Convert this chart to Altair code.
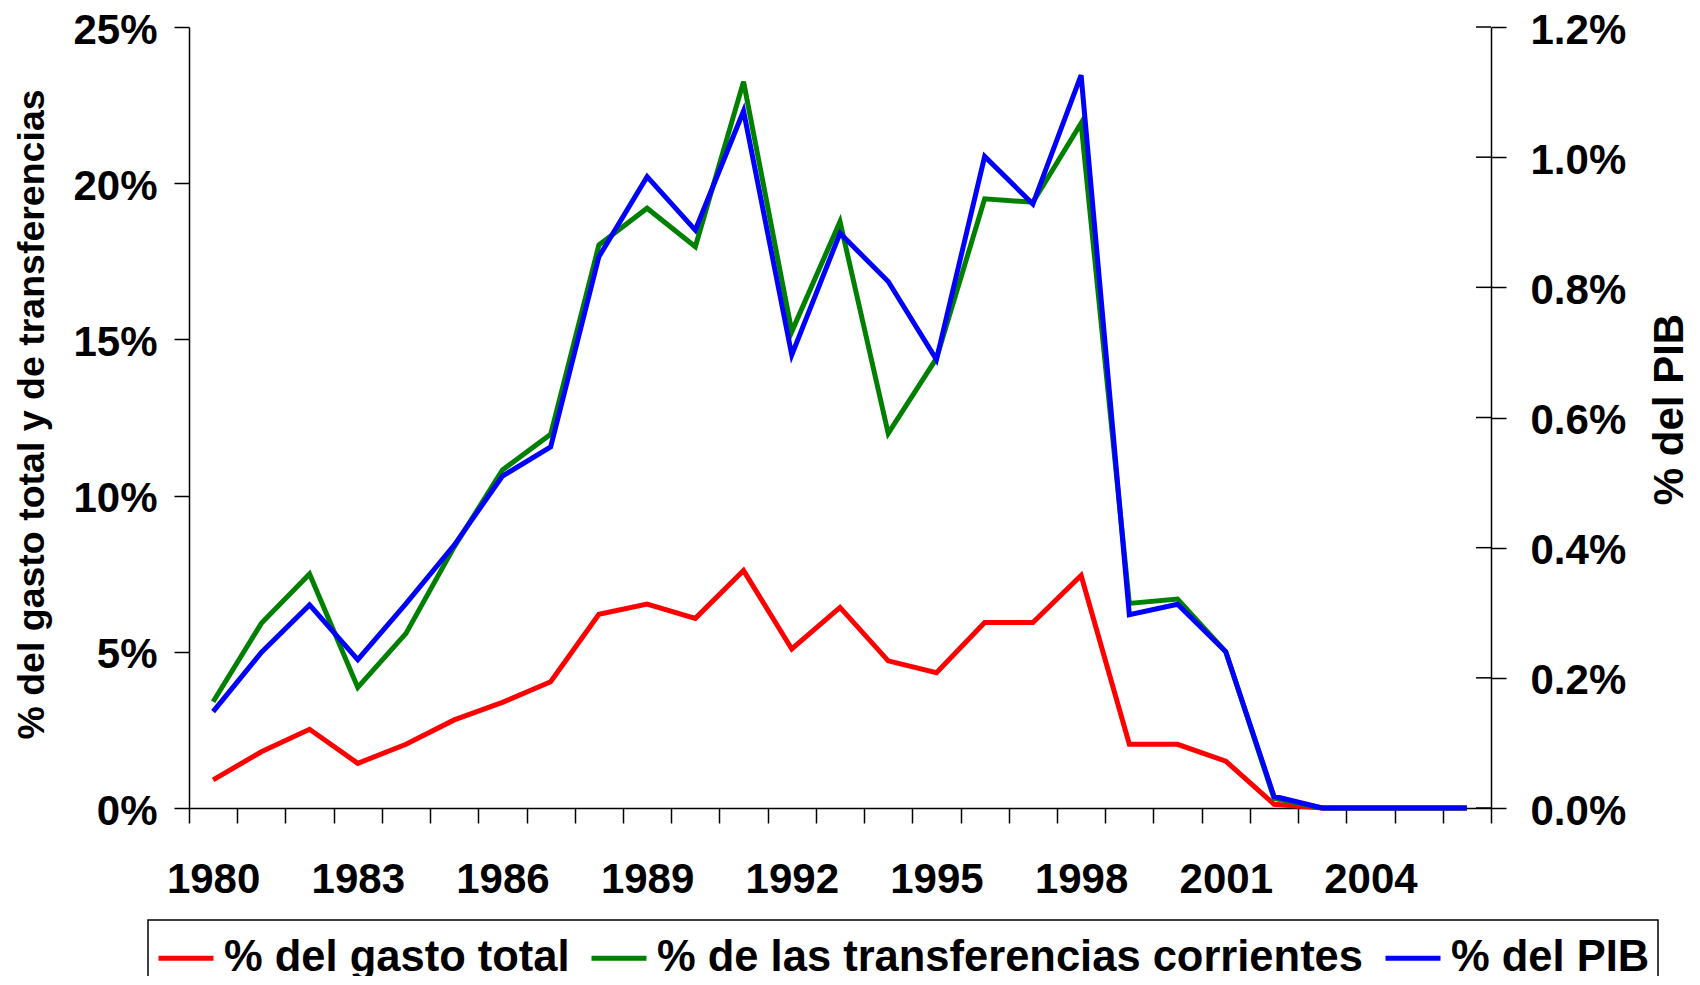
import altair as alt
import pandas as pd

# ---------------- data ----------------
years = list(range(1980, 2007))

gasto_total = [0.90, 1.80, 2.52, 1.43, 2.04, 2.82, 3.38, 4.04, 6.20, 6.53,
               6.07, 7.60, 5.09, 6.42, 4.71, 4.33, 5.94, 5.94, 7.44, 2.04,
               2.04, 1.50, 0.12, 0.0, 0.0, 0.0, 0.0]

transferencias = [3.40, 5.91, 7.49, 3.86, 5.59, 8.36, 10.82, 11.96, 18.02, 19.20,
                  17.97, 23.25, 15.25, 18.77, 11.99, 14.39, 19.50, 19.39, 21.92, 6.55,
                  6.69, 5.00, 0.31, 0.0, 0.0, 0.0, 0.0]

pib = [0.148, 0.239, 0.312, 0.228, 0.314, 0.404, 0.510, 0.555, 0.847, 0.970,
       0.888, 1.071, 0.696, 0.883, 0.809, 0.689, 1.001, 0.928, 1.126, 0.297,
       0.313, 0.240, 0.018, 0.0, 0.0, 0.0, 0.0]

left_ticks = [0, 5, 10, 15, 20, 25]
pib_ticks = [0.0, 0.2, 0.4, 0.6, 0.8, 1.0, 1.2]

S1 = "% del gasto total"
S2 = "% de las transferencias corrientes"
S3 = "% del PIB"
series = [S1, S2, S3]
colors = ["#FF0000", "#008000", "#0000FF"]

left_df = pd.DataFrame({
    "year": years * 2,
    "value": gasto_total + transferencias,
    "serie": [S1] * len(years) + [S2] * len(years),
})
right_df = pd.DataFrame({"year": years, "value": pib, "serie": [S3] * len(years)})
tick_df = pd.DataFrame({"value": pib_ticks})

# ---------------- styling ----------------
FONT = "Liberation Sans"
W, H = 1302, 781
TICK = 15

xenc = alt.X(
    "year:O",
    scale=alt.Scale(type="band", paddingInner=0, paddingOuter=0),
    bandPosition=0.5,
    axis=alt.Axis(
        title=None, tickBand="extent", labelAngle=0, labelOverlap=False,
        labelExpr="(datum.value - 1980) % 3 == 0 ? datum.label : ''",
        tickSize=TICK, labelPadding=36, labelFontSize=42,
    ),
)

color = alt.Color(
    "serie:N",
    scale=alt.Scale(domain=series, range=colors),
    sort=series,
    legend=alt.Legend(
        title=None, orient="none", legendX=-41, legendY=893,
        direction="horizontal", symbolType="stroke", symbolSize=55 * 55,
        symbolStrokeWidth=5, labelFont=FONT, labelFontSize=43.5,
        labelFontWeight="bold", labelColor="black", labelOffset=8,
        labelLimit=1000, columnPadding=11, padding=8, strokeColor="black",
    ),
)

left_axis = alt.Axis(
    title="% del gasto total y de transferencias", orient="left",
    values=left_ticks, labelExpr="datum.value + '%'",
    tickSize=TICK, labelPadding=17, labelOffset=3, labelFontSize=42,
    titleAngle=270, titleX=-146, titleY=387, titleBaseline="alphabetic",
    titleAlign="center", titleFontSize=37.5,
)
right_axis = alt.Axis(
    title="% del PIB", orient="right",
    values=pib_ticks, labelExpr="format(datum.value, '.1f') + '%'",
    tickSize=TICK, labelPadding=24, labelOffset=3, labelFontSize=42,
    titleAngle=270, titleX=191, titleY=382, titleBaseline="alphabetic",
    titleAlign="center", titleFontSize=42,
)

left = alt.Chart(left_df).mark_line(strokeWidth=5, strokeJoin="miter").encode(
    x=xenc,
    y=alt.Y("value:Q", scale=alt.Scale(domain=[0, 25], nice=False), axis=left_axis),
    color=color,
)

yr = alt.Y("value:Q", scale=alt.Scale(domain=[0, 1.2], nice=False), axis=right_axis)
blue = alt.Chart(right_df).mark_line(strokeWidth=5, strokeJoin="miter").encode(
    x=xenc, y=yr, color=color,
)
inner_ticks = alt.Chart(tick_df).mark_rule(color="black", strokeWidth=1.5).encode(
    y=yr, x=alt.value(W - TICK), x2=alt.value(W),
)
right = alt.layer(blue, inner_ticks)

chart = (
    alt.layer(left, right)
    .resolve_scale(y="independent")
    .properties(
        width=W, height=H,
        padding={"left": 181, "top": 19, "right": 201, "bottom": 168},
        autosize=alt.AutoSizeParams(type="none"),
        background="white",
    )
    .configure_view(stroke=None)
    .configure_axis(
        labelFont=FONT, labelFontWeight="bold", labelColor="black",
        titleFont=FONT, titleFontWeight="bold", titleColor="black",
        domainColor="black", tickColor="black", domainWidth=1.5, tickWidth=1.5,
        grid=False,
    )
    .configure_legend(strokeWidth=1.5)
)

chart.save("out.html", embed_options={"renderer": "svg", "actions": False})
